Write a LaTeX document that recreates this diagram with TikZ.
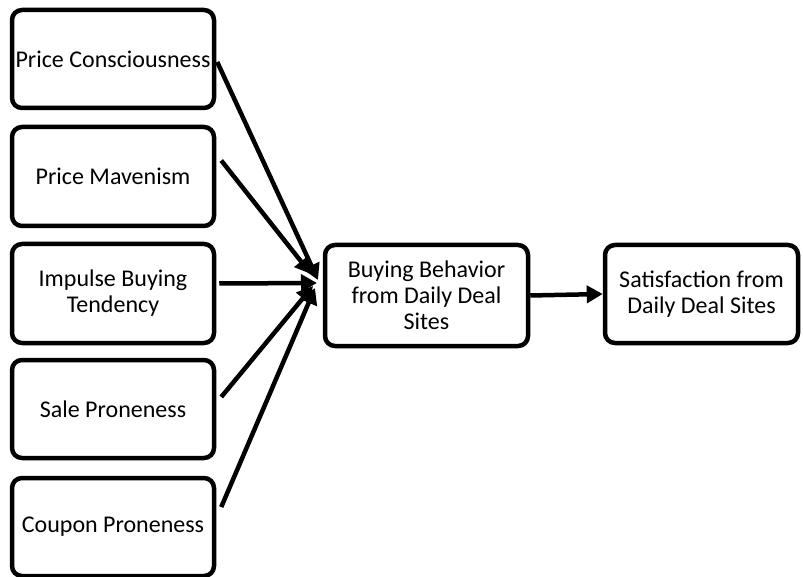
\documentclass[tikz,border=0pt]{standalone}
\usepackage{fontspec}
\setmainfont{Carlito}
\usetikzlibrary{arrows.meta}

\begin{document}
\begin{tikzpicture}[x=1pt, y=-1pt,
	box/.style={draw, line width=4.5pt, rounded corners=10pt, inner sep=0pt, align=center, font=\fontsize{24}{26}\selectfont},
	flow/.style={line width=4.5pt, -{Triangle[length=16pt, width=17pt]}}]
	\useasboundingbox (0, 0) rectangle (803, 577);

	%% antecedents
	\node[box, minimum width=202pt, minimum height=98pt] (pc) at (113, 59) {Price Consciousness};
	\node[box, minimum width=202pt, minimum height=99pt] (pm) at (113, 176.5) {Price Mavenism};
	\node[box, minimum width=202pt, minimum height=99pt] (ib) at (113, 293.5) {Impulse Buying\\Tendency};
	\node[box, minimum width=202pt, minimum height=98pt] (sp) at (113, 409) {Sale Proneness};
	\node[box, minimum width=202pt, minimum height=98pt] (cp) at (113, 527) {Coupon Proneness};

	%% behaviour and outcome
	\node[box, minimum width=203pt, minimum height=101pt] (bb) at (426.5, 295.5) {Buying Behavior\\from Daily Deal\\Sites};
	\node[box, minimum width=193pt, minimum height=98pt] (sat) at (701.5, 294) {Satisfaction from\\Daily Deal Sites};

	%% arrow ends
	\coordinate (in1) at (318, 280);
	\coordinate (in2) at (311, 274);
	\coordinate (in3) at (317, 283);
	\coordinate (in4) at (313, 286);
	\coordinate (in5) at (315, 288);

	%% arrows
	\draw[flow] ([shift={(1, 3)}]pc.east) -- (in1);
	\draw[flow] ([shift={(5, -16)}]pm.east) -- (in2);
	\draw[flow] ([shift={(3, -10)}]ib.east) -- (in3);
	\draw[flow] ([shift={(5, -12)}]sp.east) -- (in4);
	\draw[flow] ([shift={(5, -20)}]cp.east) -- (in5);

	\draw[flow] (bb.east) -- (sat.west);
\end{tikzpicture}
\end{document}
